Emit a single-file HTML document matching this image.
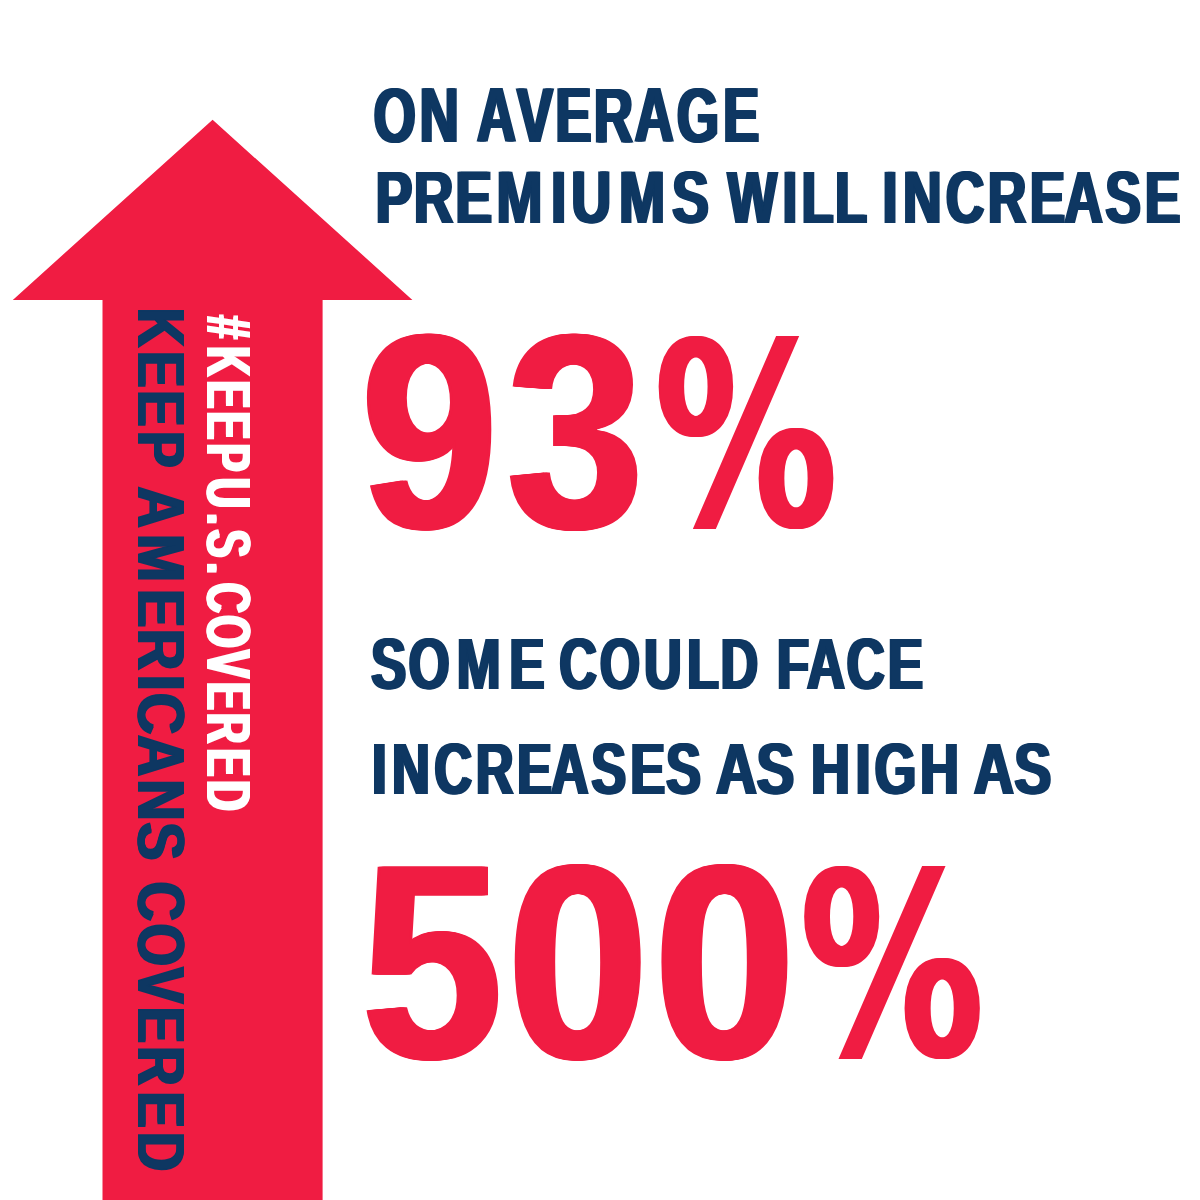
<!DOCTYPE html>
<html lang="en"><head><meta charset="utf-8"><title>Premium increases</title>
<style>
html,body{margin:0;padding:0;background:#fff}
body{width:1200px;height:1200px;overflow:hidden}
svg{display:block}
.dj{font-family:"DejaVu Sans","Liberation Sans",sans-serif !important}
.t{font-family:"Liberation Sans",Arial,Helvetica,sans-serif;font-weight:bold;font-kerning:none;white-space:pre}
</style></head>
<body>
<svg width="1200" height="1200" viewBox="0 0 1200 1200">
<rect width="1200" height="1200" fill="#fff"/>
<polygon fill="#F01C42" points="212.6,119.8 412.4,299.9 322.6,299.9 322.6,1200 102.5,1200 102.5,299.9 12.8,299.9"/>
<g>
<text class="t" fill="#0E3762" font-size="77.04" transform="scale(0.7032,1)" x="531.2 596.7" y="141.90" style="text-shadow:1.99px 0 0 #0E3762,-1.99px 0 0 #0E3762">ON</text>
<text class="t" fill="#0E3762" font-size="77.04" transform="scale(0.7035,1)" x="677.7 734.8 789.6 844.3 902.0 962.1 1027.8" y="141.90" style="text-shadow:1.99px 0 0 #0E3762,-1.99px 0 0 #0E3762">AVERAGE</text>
</g>
<g>
<text class="t" fill="#0E3762" font-size="73.55" transform="scale(0.7484,1)" x="502.0 552.9 608.4 663.4 736.2 763.5 827.3 898.0" y="222.70" style="text-shadow:1.87px 0 0 #0E3762,-1.87px 0 0 #0E3762">PREMIUMS</text>
<text class="t" fill="#0E3762" font-size="73.55" transform="scale(0.7105,1)" x="1024.0 1101.4 1128.3 1175.3" y="222.70" style="text-shadow:1.97px 0 0 #0E3762,-1.97px 0 0 #0E3762">WILL</text>
<text class="t" fill="#0E3762" font-size="73.55" transform="scale(0.7243,1)" x="1218.7 1247.0 1306.0 1364.0 1421.7 1469.4 1526.1 1580.6" y="222.70" style="text-shadow:1.93px 0 0 #0E3762,-1.93px 0 0 #0E3762">INCREASE</text>
</g>
<g>
<text class="t" fill="#F01C42" font-size="277.96" transform="scale(0.8807,1)" x="410.3 575.8" y="527.83" style="text-shadow:3.12px 0 0 #F01C42,-3.12px 0 0 #F01C42,1.56px 0 0 #F01C42,-1.56px 0 0 #F01C42">93</text>
<text class="t dj" fill="#F01C42" font-size="254.84" transform="scale(0.7177,1)" x="911.8" y="525.14" style="text-shadow:2.09px 0 0 #F01C42,-2.09px 0 0 #F01C42">%</text>
</g>
<g>
<text class="t" fill="#0E3762" font-size="71.95" transform="scale(0.7321,1)" x="506.9 558.3 623.9 695.8" y="688.75" style="text-shadow:1.91px 0 0 #0E3762,-1.91px 0 0 #0E3762">SOME</text>
<text class="t" fill="#0E3762" font-size="71.95" transform="scale(0.7207,1)" x="776.2 832.2 893.7 953.3 999.8" y="688.75" style="text-shadow:1.94px 0 0 #0E3762,-1.94px 0 0 #0E3762">COULD</text>
<text class="t" fill="#0E3762" font-size="71.95" transform="scale(0.7329,1)" x="1060.0 1100.9 1155.3 1211.5" y="688.75" style="text-shadow:1.91px 0 0 #0E3762,-1.91px 0 0 #0E3762">FACE</text>
</g>
<g>
<text class="t" fill="#0E3762" font-size="72.68" transform="scale(0.7175,1)" x="518.6 546.4 605.3 663.2 720.7 767.8 824.3 878.5 928.4" y="793.75" style="text-shadow:1.95px 0 0 #0E3762,-1.95px 0 0 #0E3762">INCREASES</text>
<text class="t" fill="#0E3762" font-size="72.68" transform="scale(0.7766,1)" x="922.1 974.3" y="793.75" style="text-shadow:1.80px 0 0 #0E3762,-1.80px 0 0 #0E3762">AS</text>
<text class="t" fill="#0E3762" font-size="72.68" transform="scale(0.7377,1)" x="1099.5 1159.8 1185.6 1247.4" y="793.75" style="text-shadow:1.90px 0 0 #0E3762,-1.90px 0 0 #0E3762">HIGH</text>
<text class="t" fill="#0E3762" font-size="72.68" transform="scale(0.7621,1)" x="1277.8 1331.0" y="793.75" style="text-shadow:1.84px 0 0 #0E3762,-1.84px 0 0 #0E3762">AS</text>
</g>
<g>
<text class="t" fill="#F01C42" font-size="278.03" transform="scale(0.9094,1)" x="397.7 558.2 719.5" y="1058.08" style="text-shadow:3.02px 0 0 #F01C42,-3.02px 0 0 #F01C42,1.51px 0 0 #F01C42,-1.51px 0 0 #F01C42">500</text>
<text class="t dj" fill="#F01C42" font-size="255.04" transform="scale(0.7198,1)" x="1111.4" y="1054.79" style="text-shadow:2.08px 0 0 #F01C42,-2.08px 0 0 #F01C42">%</text>
</g>
<g>
<text class="t" fill="#0E3762" font-size="67.59" transform="translate(137.50,0) rotate(90) scale(0.8123,1)" x="378.7 431.9 480.1 530.5" y="0" style="text-shadow:1.48px 0 0 #0E3762,-1.48px 0 0 #0E3762">KEEP</text>
<text class="t" fill="#0E3762" font-size="67.59" transform="translate(137.50,0) rotate(90) scale(0.8520,1)" x="570.9 626.9 691.4 737.9 792.0 813.4 862.5 914.7 964.7" y="0" style="text-shadow:1.41px 0 0 #0E3762,-1.41px 0 0 #0E3762">AMERICANS</text>
<text class="t" fill="#0E3762" font-size="67.59" transform="translate(137.50,0) rotate(90) scale(0.8083,1)" x="1090.7 1142.6 1196.5 1245.4 1294.2 1350.2 1400.1" y="0" style="text-shadow:1.48px 0 0 #0E3762,-1.48px 0 0 #0E3762">COVERED</text>
<text class="t" fill="#FFFFFF" font-size="62.50" transform="translate(207.00,0) rotate(90) scale(0.6741,1)" x="467.7 513.5 564.4 610.2 657.7 708.7 761.1 785.4 834.3 864.2 912.4 964.3 1011.4 1057.7 1110.1 1157.5" y="0" style="text-shadow:1.78px 0 0 #FFFFFF,-1.78px 0 0 #FFFFFF">#KEEPU.S.COVERED</text>
</g>
</svg>
</body></html>
